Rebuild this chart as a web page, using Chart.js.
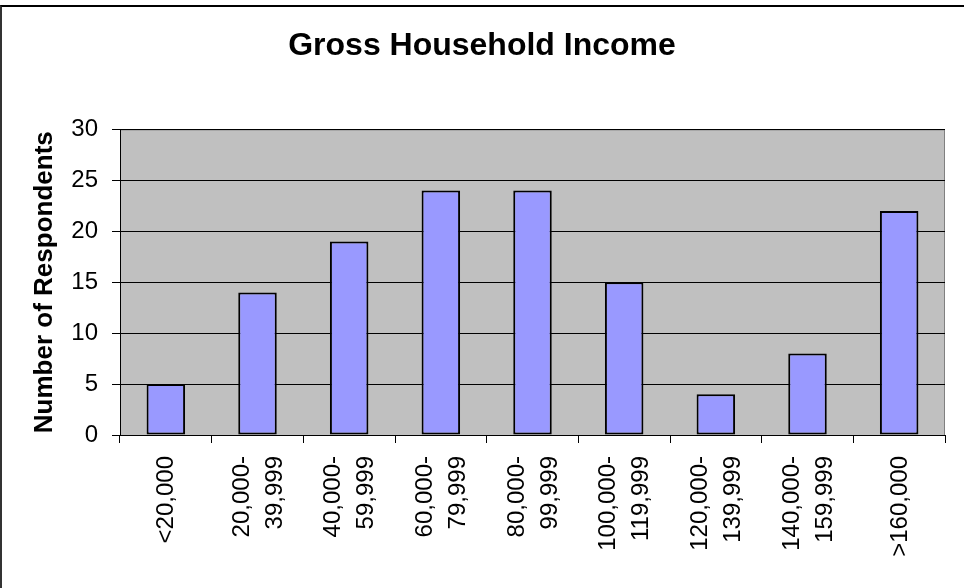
<!DOCTYPE html>
<html>
<head>
<meta charset="utf-8">
<script src="https://cdn.jsdelivr.net/npm/chart.js@4"></script>
<style>
  html, body { margin: 0; padding: 0; background: #ffffff; }
  #wrap { position: relative; width: 964px; height: 588px; box-sizing: border-box; }
  #frame { position: absolute; left: 0; top: 5px; width: 964px; height: 583px; box-sizing: border-box; border-left: 2px solid #333; border-top: 2px solid #000; pointer-events: none; }
</style>
</head>
<body>
<div id="wrap">
  <canvas id="c" width="964" height="588"></canvas>
  <div id="frame"></div>
</div>
<script>
const categories = [
  ["<20,000"],
  ["20,000-", "39,999"],
  ["40,000-", "59,999"],
  ["60,000-", "79,999"],
  ["80,000-", "99,999"],
  ["100,000-", "119,999"],
  ["120,000-", "139,999"],
  ["140,000-", "159,999"],
  [">160,000"]
];
const respondents = [5, 14, 19, 24, 24, 15, 4, 8, 22];
const yTicks = [0, 5, 10, 15, 20, 25, 30];
const chartTitle = "Gross Household Income";
const yTitle = "Number of Respondents";

const FONT = "'Liberation Sans', Arial, sans-serif";
const X_FONT_SIZE = 24;
const X_LINE_H = 1.375;
const xLh = X_FONT_SIZE * X_LINE_H;

const plotBg = {
  id: 'plotBg',
  beforeDraw(chart) {
    const {ctx, chartArea: a} = chart;
    ctx.save();
    ctx.fillStyle = '#C0C0C0';
    ctx.fillRect(a.left, a.top, a.right - a.left, a.bottom - a.top);
    ctx.strokeStyle = '#808080';
    ctx.lineWidth = 1;
    ctx.beginPath();
    ctx.moveTo(a.left, a.top + 0.5);
    ctx.lineTo(a.right - 0.5, a.top + 0.5);
    ctx.lineTo(a.right - 0.5, a.bottom);
    ctx.stroke();
    ctx.restore();
  }
};

new Chart(document.getElementById('c'), {
  type: 'bar',
  data: {
    labels: categories,
    datasets: [{
      data: respondents,
      backgroundColor: '#9999FF',
      borderColor: '#000000',
      borderWidth: 2,
      borderSkipped: false,
      barPercentage: 0.42,
      categoryPercentage: 1.0
    }]
  },
  options: {
    responsive: false,
    animation: false,
    layout: { padding: 0 },
    plugins: {
      legend: { display: false },
      tooltip: { enabled: false },
      title: {
        display: true,
        text: chartTitle,
        color: '#000',
        font: { family: FONT, size: 32, weight: 'bold' },
        padding: { top: 27, bottom: 64 }
      }
    },
    scales: {
      x: {
        offset: true,
        grid: { display: true, offset: true, drawOnChartArea: false, drawTicks: true, tickLength: 8, color: '#000', lineWidth: 1 },
        border: { display: true, color: '#000', width: 1 },
        ticks: {
          color: '#000',
          font: { family: FONT, size: X_FONT_SIZE, lineHeight: X_LINE_H },
          maxRotation: 90, minRotation: 90,
          autoSkip: false,
          padding: 13,
          labelOffset: -xLh / 2 + 1,
          showLabelBackdrop: (ctx) => categories[ctx.index] && categories[ctx.index].length === 1,
          backdropColor: 'rgba(0,0,0,0)',
          backdropPadding: 0
        },
        afterFit(s) { s.height = 153; }
      },
      y: {
        min: 0, max: 30,
        afterBuildTicks(s) { s.ticks = yTicks.map(v => ({ value: v })); },
        grid: { color: '#000', lineWidth: 1, tickLength: 8, drawTicks: true },
        border: { display: true, color: '#000', width: 1 },
        ticks: {
          color: '#000',
          font: { family: FONT, size: 24 },
          padding: 14
        },
        title: {
          display: true,
          text: yTitle,
          color: '#000',
          font: { family: FONT, size: 26, weight: 'bold' },
          padding: { top: 29, bottom: 0 }
        },
        afterFit(s) { s.width = 120; }
      },
      yRight: {
        position: 'right',
        display: true,
        min: 0, max: 30,
        grid: { display: false, drawTicks: false },
        border: { display: false },
        ticks: { display: false },
        afterFit(s) { s.width = 19; }
      }
    }
  },
  plugins: [plotBg]
});
</script>
</body>
</html>
